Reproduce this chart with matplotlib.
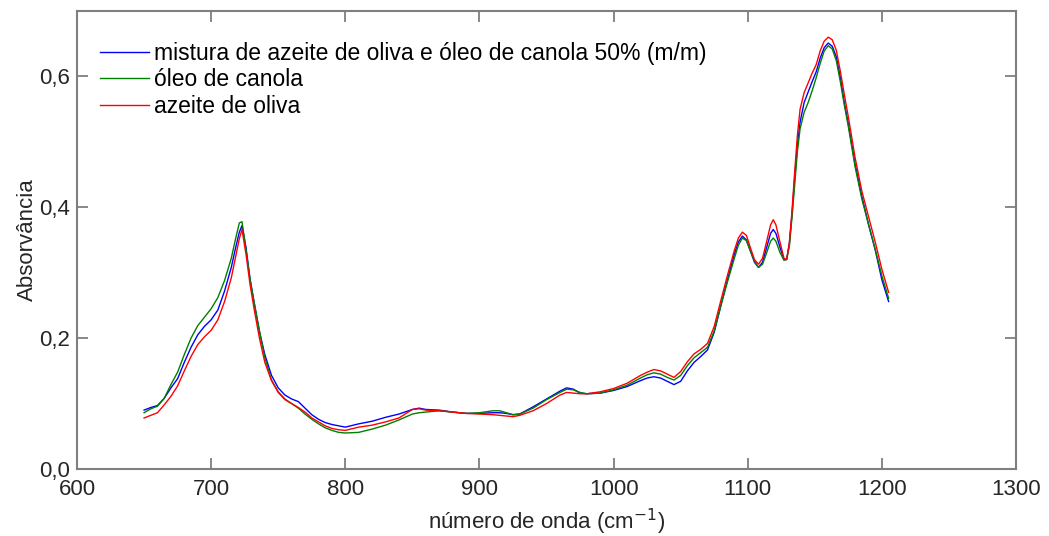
import matplotlib
matplotlib.use("Agg")
import matplotlib.pyplot as plt

plt.rcParams['font.family'] = ['Liberation Sans', 'DejaVu Sans']

wavenumber = [650, 655, 660, 665, 670, 675, 680, 685, 690, 695, 700, 705, 710, 715, 718,
              721, 723, 726, 729, 732, 736, 740, 745, 750, 755, 760, 765, 770, 775, 780,
              785, 790, 795, 800, 810, 820, 830, 840, 850, 855, 860, 870, 880, 890, 900,
              910, 915, 920, 925, 930, 940, 950, 960, 965, 970, 975, 980, 990, 1000, 1010,
              1020, 1025, 1030, 1035, 1040, 1045, 1050, 1055, 1060, 1065, 1070, 1075, 1080,
              1085, 1090, 1093, 1096, 1099, 1102, 1105, 1108, 1111, 1114, 1117, 1119, 1121,
              1124, 1127, 1129, 1131, 1133, 1135, 1137, 1139, 1142, 1145, 1148, 1151, 1154,
              1157, 1160, 1163, 1166, 1169, 1172, 1175, 1180, 1185, 1190, 1195, 1200, 1205]

mistura = [0.090, 0.094, 0.097, 0.108, 0.124, 0.138, 0.163, 0.186, 0.205, 0.218, 0.228,
           0.243, 0.272, 0.308, 0.336, 0.362, 0.372, 0.338, 0.290, 0.255, 0.210, 0.175,
           0.143, 0.124, 0.113, 0.107, 0.103, 0.093, 0.083, 0.076, 0.071, 0.068, 0.066,
           0.064, 0.069, 0.073, 0.079, 0.084, 0.091, 0.093, 0.091, 0.090, 0.087, 0.085,
           0.085, 0.086, 0.086, 0.085, 0.083, 0.084, 0.095, 0.107, 0.119, 0.124, 0.122,
           0.116, 0.115, 0.116, 0.120, 0.126, 0.135, 0.139, 0.141, 0.139, 0.134, 0.129,
           0.134, 0.150, 0.163, 0.172, 0.182, 0.209, 0.250, 0.290, 0.328, 0.347, 0.356,
           0.350, 0.333, 0.316, 0.308, 0.316, 0.338, 0.360, 0.366, 0.360, 0.339, 0.320,
           0.320, 0.345, 0.390, 0.445, 0.495, 0.530, 0.560, 0.576, 0.592, 0.607, 0.628,
           0.644, 0.651, 0.646, 0.630, 0.598, 0.560, 0.527, 0.466, 0.417, 0.374, 0.335,
           0.289, 0.256]

canola = [0.086, 0.092, 0.096, 0.108, 0.129, 0.148, 0.175, 0.200, 0.219, 0.232, 0.245,
          0.262, 0.288, 0.322, 0.350, 0.376, 0.378, 0.335, 0.290, 0.255, 0.211, 0.170,
          0.136, 0.118, 0.107, 0.100, 0.093, 0.084, 0.076, 0.069, 0.063, 0.059, 0.056,
          0.055, 0.056, 0.061, 0.067, 0.075, 0.084, 0.086, 0.087, 0.089, 0.087, 0.085,
          0.086, 0.089, 0.089, 0.086, 0.083, 0.084, 0.093, 0.106, 0.117, 0.122, 0.121,
          0.117, 0.115, 0.116, 0.121, 0.128, 0.139, 0.144, 0.147, 0.145, 0.140, 0.136,
          0.143, 0.158, 0.170, 0.178, 0.186, 0.211, 0.250, 0.287, 0.322, 0.342, 0.353,
          0.349, 0.333, 0.318, 0.308, 0.313, 0.330, 0.348, 0.353, 0.348, 0.331, 0.319,
          0.321, 0.340, 0.385, 0.435, 0.485, 0.520, 0.545, 0.560, 0.578, 0.598, 0.620,
          0.639, 0.647, 0.642, 0.624, 0.592, 0.556, 0.523, 0.462, 0.413, 0.374, 0.336,
          0.295, 0.261]

oliva = [0.078, 0.082, 0.086, 0.098, 0.111, 0.127, 0.150, 0.172, 0.190, 0.202, 0.212,
         0.228, 0.256, 0.292, 0.322, 0.352, 0.366, 0.328, 0.282, 0.245, 0.200, 0.163,
         0.135, 0.117, 0.106, 0.100, 0.094, 0.087, 0.078, 0.072, 0.066, 0.062, 0.060,
         0.059, 0.064, 0.067, 0.072, 0.078, 0.091, 0.092, 0.090, 0.089, 0.087, 0.085,
         0.084, 0.083, 0.082, 0.081, 0.080, 0.082, 0.089, 0.100, 0.113, 0.117, 0.116,
         0.115, 0.115, 0.118, 0.123, 0.131, 0.143, 0.148, 0.152, 0.150, 0.145, 0.140,
         0.149, 0.164, 0.176, 0.183, 0.192, 0.218, 0.258, 0.297, 0.334, 0.353, 0.362,
         0.357, 0.338, 0.320, 0.313, 0.322, 0.347, 0.373, 0.381, 0.373, 0.347, 0.322,
         0.320, 0.345, 0.395, 0.455, 0.510, 0.550, 0.575, 0.590, 0.605, 0.618, 0.639,
         0.654, 0.660, 0.656, 0.640, 0.608, 0.572, 0.538, 0.476, 0.425, 0.386, 0.347,
         0.305, 0.270]

labels = ["mistura de azeite de oliva e óleo de canola 50% (m/m)",
          "óleo de canola",
          "azeite de oliva"]
colors = ["#0000ff", "#008000", "#ff0000"]

xticks = [600, 700, 800, 900, 1000, 1100, 1200, 1300]
yticks = [0.0, 0.2, 0.4, 0.6]
ytick_labels = ["0,0", "0,2", "0,4", "0,6"]

fig = plt.figure(figsize=(10.49, 5.36), dpi=100)
ax = fig.add_axes([0.0734, 0.125, 0.8952, 0.8545])

for series, label, color in zip([mistura, canola, oliva], labels, colors):
    ax.plot(wavenumber, series, color=color, lw=1.0, label=label)

ax.set_xlim(600, 1300)
ax.set_ylim(0, 0.7)
ax.set_xticks(xticks)
ax.set_xticklabels([str(t) for t in xticks])
ax.set_yticks(yticks)
ax.set_yticklabels(ytick_labels)

text_color = "#262626"
for side in ax.spines.values():
    side.set_color("#7f7f7f")
    side.set_linewidth(1.5)
ax.tick_params(direction="in", length=8, width=1.3, color="#7f7f7f",
               top=True, right=True, labelsize=16, labelcolor=text_color)
ax.tick_params(axis="x", pad=7)
ax.tick_params(axis="y", pad=5)

ax.set_xlabel("número de onda (cm$^{-1}$)", fontsize=16, color=text_color, labelpad=5)
ax.set_ylabel("Absorvância", fontsize=16, color=text_color, labelpad=1)

ax.legend(loc="upper left", frameon=False, fontsize=16.5, handlelength=2.14,
          handletextpad=0.22, labelspacing=0.14, borderaxespad=0.0,
          bbox_to_anchor=(0.015, 0.952))

fig.savefig("out.png", dpi=100)
